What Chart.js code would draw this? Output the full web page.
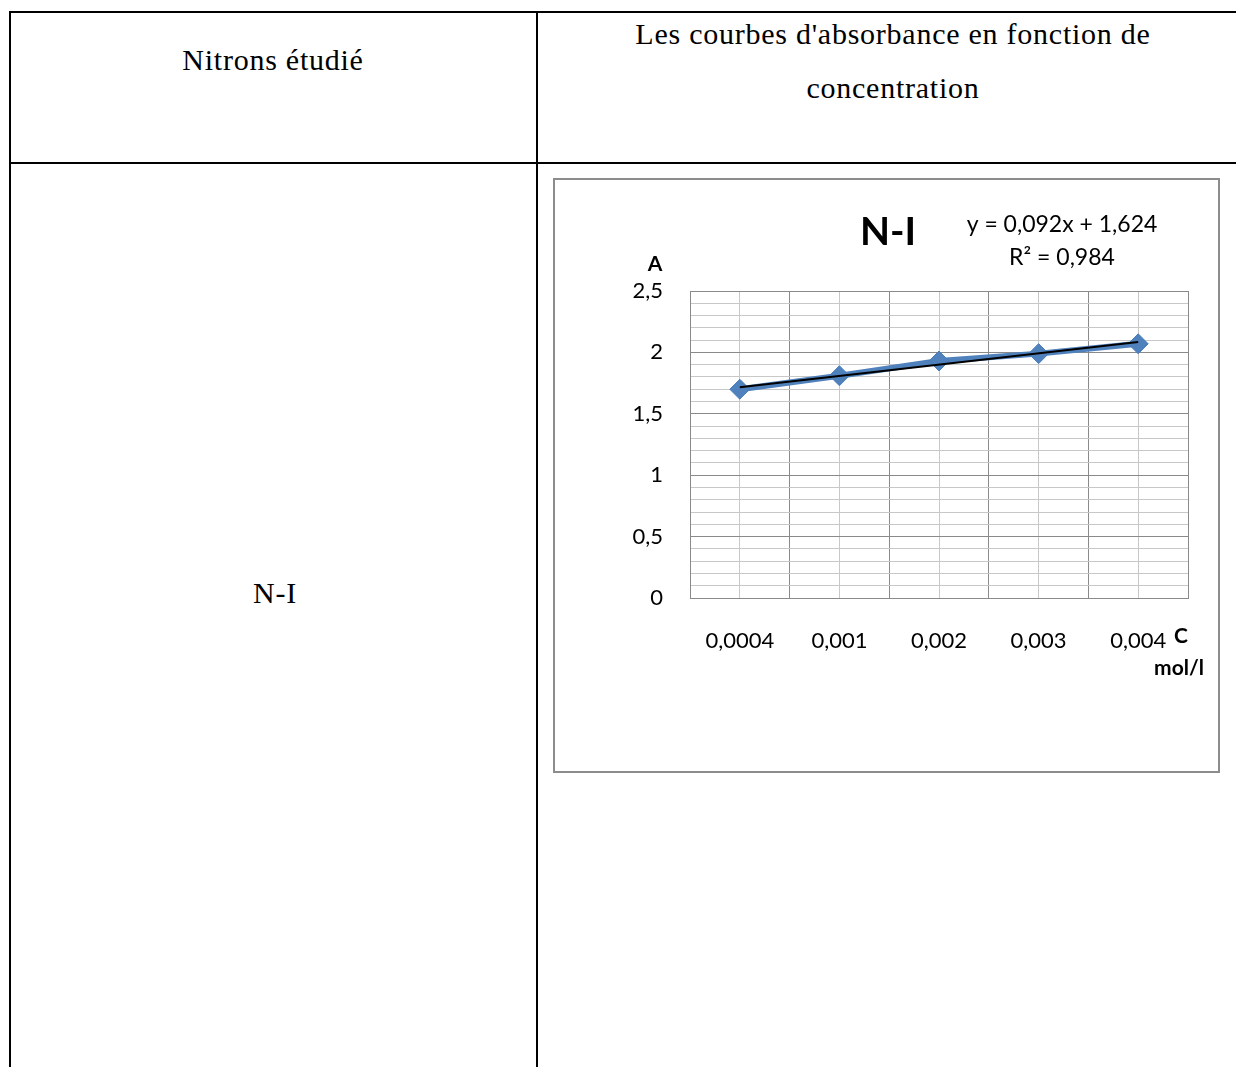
<!DOCTYPE html>
<html>
<head>
<meta charset="utf-8">
<title>N-I</title>
<script src="https://cdn.jsdelivr.net/npm/chart.js@4.4.0/dist/chart.umd.min.js"></script>
<style>
  html, body { margin: 0; padding: 0; background: #ffffff; }
  body { width: 1236px; height: 1067px; position: relative; overflow: hidden; }
  .rule { position: absolute; background: #000000; }
  .cell-text {
    position: absolute;
    font-family: "Liberation Serif", "Times New Roman", serif;
    font-size: 30px;
    letter-spacing: 0.75px;
    color: #000000;
    text-align: center;
    white-space: nowrap;
  }
  #chartBox {
    position: absolute;
    left: 553px; top: 178px;
    width: 667px; height: 595px;
    box-sizing: border-box;
    border: 2px solid #8c8c8c;
    background: #ffffff;
  }
  #chartBox canvas { position: absolute; left: 0; top: 0; }
</style>
</head>
<body>
  <!-- table rules -->
  <div class="rule" style="left:9px; top:11px; width:1227px; height:2px;"></div>
  <div class="rule" style="left:9px; top:162px; width:1227px; height:2px;"></div>
  <div class="rule" style="left:9px; top:11px; width:2px; height:1056px;"></div>
  <div class="rule" style="left:536px; top:11px; width:2px; height:1056px;"></div>

  <!-- table text -->
  <div class="cell-text" style="left:23px; width:500px; top:40px; line-height:40px;">Nitrons étudié</div>
  <div class="cell-text" style="left:593px; width:600px; top:7px; line-height:54px;">Les courbes d'absorbance en fonction de<br>concentration</div>
  <div class="cell-text" style="left:25px; width:500px; top:573px; line-height:40px;">N-I</div>

  <div id="chartBox"><canvas id="chart" width="663" height="591"></canvas></div>

<script>
// Concentrations (mol/l) shown on the category axis
const categories = ['0,0004', '0,001', '0,002', '0,003', '0,004'];
// Measured absorbance for each concentration
const absorbance = [1.70, 1.81, 1.93, 1.99, 2.07];
// Linear trendline reported on the chart: y = 0,092x + 1,624 (x = point rank 1..5)
const trendSlope = 0.092;
const trendIntercept = 1.624;
const trendR2 = 0.984;
// Value axis tick labels (every 0.5)
const yTickLabels = ['0', '0,5', '1', '1,5', '2', '2,5'];

const chartTitle = 'N-I';
const yAxisTitle = 'A';
const xAxisTitle = ['C', 'mol/l'];

const fmt = (v, d) => v.toFixed(d).replace('.', ',');

const FONT = 'Lato, "Open Sans", "DejaVu Sans", sans-serif';
const MAJOR_GRID = '#8a8a8a';
const MINOR_GRID = '#c8c8c8';
const SERIES_BLUE = '#4f81bd';

const isMultiple = (v, step) => Math.abs(v / step - Math.round(v / step)) < 1e-6;

const seriesPoints = absorbance.map((a, i) => ({ x: i, y: a }));
const trendPoints = [0, categories.length - 1].map(i => ({
  x: i,
  y: trendIntercept + trendSlope * (i + 1)
}));

// Title, equation and axis captions drawn on top of the chart
const captions = {
  id: 'captions',
  afterDraw(chart) {
    const ctx = chart.ctx;
    const area = chart.chartArea;
    ctx.save();
    ctx.fillStyle = '#000000';
    ctx.textAlign = 'center';
    ctx.textBaseline = 'middle';

    ctx.font = 'bold 39px ' + FONT;
    ctx.fillText(chartTitle, 333, 52);

    ctx.font = '23px ' + FONT;
    ctx.fillText('y = ' + fmt(trendSlope, 3) + 'x + ' + fmt(trendIntercept, 3), 507, 45);
    ctx.fillText('R² = ' + fmt(trendR2, 3), 507, 78);

    ctx.font = 'bold 21px ' + FONT;
    ctx.fillText(yAxisTitle, area.left - 35, area.top - 27);
    ctx.fillText(xAxisTitle[0], area.right - 7, area.bottom + 38);
    ctx.fillText(xAxisTitle[1], area.right - 9, area.bottom + 70);
    ctx.restore();
  }
};

new Chart(document.getElementById('chart'), {
  type: 'line',
  data: {
    datasets: [
      {
        label: 'Tendance',
        data: trendPoints,
        borderColor: '#000000',
        borderWidth: 2,
        pointRadius: 0,
        fill: false,
        order: 0
      },
      {
        label: chartTitle,
        data: seriesPoints,
        borderColor: SERIES_BLUE,
        borderWidth: 6,
        pointStyle: 'rectRot',
        pointRadius: 10,
        pointBackgroundColor: SERIES_BLUE,
        pointBorderColor: '#4a7ebb',
        pointBorderWidth: 1,
        fill: false,
        tension: 0,
        order: 1
      }
    ]
  },
  options: {
    responsive: false,
    animation: false,
    devicePixelRatio: 1,
    layout: { padding: { left: 0, top: 111, right: 28, bottom: 0 } },
    plugins: {
      legend: { display: false },
      tooltip: { enabled: false },
      title: { display: false }
    },
    scales: {
      x: {
        type: 'linear',
        min: -0.5,
        max: categories.length - 0.5,
        afterFit(scale) { scale.height = 173; },
        border: { display: true, color: MAJOR_GRID, width: 1 },
        grid: {
          drawTicks: false,
          lineWidth: 1,
          color: c => isMultiple(c.tick.value, 1) ? MINOR_GRID : MAJOR_GRID
        },
        ticks: {
          stepSize: 0.5,
          autoSkip: false,
          maxRotation: 0,
          minRotation: 0,
          padding: 30,
          color: '#000000',
          font: { family: FONT, size: 22 },
          callback: v => isMultiple(v, 1) ? categories[Math.round(v)] : ''
        }
      },
      y: {
        type: 'linear',
        min: 0,
        max: 2.5,
        afterFit(scale) { scale.width = 135; },
        border: { display: true, color: MAJOR_GRID, width: 1 },
        grid: {
          drawTicks: false,
          lineWidth: 1,
          color: c => isMultiple(c.tick.value, 0.5) ? MAJOR_GRID : MINOR_GRID
        },
        ticks: {
          stepSize: 0.1,
          autoSkip: false,
          padding: 27,
          color: '#000000',
          font: { family: FONT, size: 22 },
          callback: v => isMultiple(v, 0.5) ? yTickLabels[Math.round(v / 0.5)] : ''
        }
      }
    }
  },
  plugins: [captions]
});
</script>
</body>
</html>
